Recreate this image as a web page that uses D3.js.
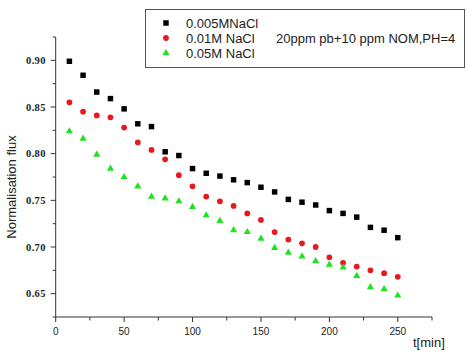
<!DOCTYPE html>
<html>
<head>
<meta charset="utf-8">
<script src="https://cdn.jsdelivr.net/npm/d3@7"></script>
<style>
  body { margin: 0; background: #fff; }
  svg { display: block; }
</style>
</head>
<body>
<div id="chart"></div>
<script>
// time in minutes
const times = [10, 20, 30, 40, 50, 60, 70, 80, 90, 100, 110, 120, 130, 140, 150, 160, 170, 180, 190, 200, 210, 220, 230, 240, 250];

const nacl005 = [0.899, 0.884, 0.866, 0.859, 0.848, 0.832, 0.829, 0.802, 0.798, 0.784, 0.779, 0.776, 0.772, 0.769, 0.764, 0.759, 0.751, 0.748, 0.745, 0.739, 0.736, 0.732, 0.721, 0.718, 0.710];
const nacl01 = [0.855, 0.845, 0.841, 0.839, 0.828, 0.812, 0.804, 0.794, 0.777, 0.765, 0.754, 0.749, 0.744, 0.736, 0.729, 0.716, 0.708, 0.704, 0.700, 0.689, 0.683, 0.679, 0.675, 0.672, 0.668];
const nacl05 = [0.824, 0.816, 0.799, 0.784, 0.775, 0.765, 0.754, 0.752, 0.749, 0.743, 0.734, 0.728, 0.718, 0.716, 0.709, 0.699, 0.694, 0.690, 0.685, 0.681, 0.678, 0.669, 0.657, 0.655, 0.648];

const seriesNames = ["0.005MNaCl", "0.01M NaCl", "0.05M NaCl"];
const xTicks = [0, 50, 100, 150, 200, 250];
const yTicks = [0.65, 0.70, 0.75, 0.80, 0.85, 0.90];

const width = 467, height = 354;

const svg = d3.select("#chart").append("svg")
    .attr("width", width)
    .attr("height", height);

const x = d3.scaleLinear().domain([0, 275]).range([55.7, 432]);
const y = d3.scaleLinear().domain([0.625, 0.925]).range([317, 37]);

const series = [
    { name: seriesNames[0], values: nacl005, shape: d3.symbolSquare, size: 30, color: "#000" },
    { name: seriesNames[1], values: nacl01, shape: d3.symbolCircle, size: 26, color: "#e8191c" },
    { name: seriesNames[2], values: nacl05, shape: d3.symbolTriangle, size: 22, color: "#1fe21f" }
];

const axisColor = "#333";

// x axis
const xAxis = svg.append("g").attr("transform", "translate(0," + y.range()[0] + ")");
xAxis.append("line")
    .attr("x1", x(0)).attr("x2", x(275))
    .attr("stroke", axisColor);
xAxis.selectAll(".minor")
    .data(d3.range(25, 276, 50))
    .enter().append("line")
    .attr("x1", d => x(d)).attr("x2", d => x(d))
    .attr("y1", 0).attr("y2", 3.5)
    .attr("stroke", axisColor);
xAxis.selectAll(".major")
    .data(xTicks)
    .enter().append("line")
    .attr("x1", d => x(d)).attr("x2", d => x(d))
    .attr("y1", 0).attr("y2", 5)
    .attr("stroke", axisColor);
xAxis.selectAll(".lbl")
    .data(xTicks)
    .enter().append("text")
    .attr("x", d => x(d))
    .attr("y", 17.5)
    .attr("text-anchor", "middle")
    .attr("font-family", "Liberation Sans, Arial, sans-serif")
    .attr("font-size", "10px")
    .attr("fill", "#222")
    .text(d => d);

// y axis
const yAxis = svg.append("g").attr("transform", "translate(" + x(0) + ",0)");
yAxis.append("line")
    .attr("y1", y(0.625)).attr("y2", y(0.925))
    .attr("stroke", axisColor);
yAxis.selectAll(".minor")
    .data(d3.range(0.625, 0.93, 0.05))
    .enter().append("line")
    .attr("y1", d => y(d)).attr("y2", d => y(d))
    .attr("x1", 0).attr("x2", -3)
    .attr("stroke", axisColor);
yAxis.selectAll(".major")
    .data(yTicks)
    .enter().append("line")
    .attr("y1", d => y(d)).attr("y2", d => y(d))
    .attr("x1", 0).attr("x2", -5)
    .attr("stroke", axisColor);
yAxis.selectAll(".lbl")
    .data(yTicks)
    .enter().append("text")
    .attr("x", -10)
    .attr("y", d => y(d) + 3.5)
    .attr("text-anchor", "end")
    .attr("font-family", "Liberation Serif, Times New Roman, serif")
    .attr("font-weight", "bold")
    .attr("font-size", "10.5px")
    .attr("letter-spacing", "0.3px")
    .attr("fill", "#222")
    .text(d => d.toFixed(2));

// axis titles
svg.append("text")
    .attr("transform", "translate(16,187) rotate(-90)")
    .attr("text-anchor", "middle")
    .attr("font-family", "Liberation Sans, Arial, sans-serif")
    .attr("font-size", "13px")
    .attr("fill", "#222")
    .text("Normalisation flux");

svg.append("text")
    .attr("x", 413)
    .attr("y", 347)
    .attr("font-family", "Liberation Sans, Arial, sans-serif")
    .attr("font-size", "13px")
    .attr("fill", "#222")
    .text("t[min]");

// points
series.forEach(s => {
    const sym = d3.symbol().type(s.shape).size(s.size);
    svg.append("g")
        .selectAll("path")
        .data(s.values)
        .enter().append("path")
        .attr("d", sym)
        .attr("transform", (d, i) => "translate(" + x(times[i]) + "," + y(d) + ")")
        .attr("fill", s.color);
});

// legend
const legend = svg.append("g");
legend.append("rect")
    .attr("x", 145.5).attr("y", 9.5)
    .attr("width", 319).attr("height", 58)
    .attr("fill", "#fff")
    .attr("stroke", "#555");

const rows = legend.selectAll(".row")
    .data(series)
    .enter().append("g")
    .attr("transform", (d, i) => "translate(0," + (23 + i * 15) + ")");
rows.append("path")
    .attr("d", d => d3.symbol().type(d.shape).size(d.size)())
    .attr("transform", "translate(166,0)")
    .attr("fill", d => d.color);
rows.append("text")
    .attr("x", 186)
    .attr("y", 4.5)
    .attr("font-family", "Liberation Sans, Arial, sans-serif")
    .attr("font-size", "13px")
    .attr("fill", "#222")
    .text(d => d.name);

legend.append("text")
    .attr("x", 276)
    .attr("y", 42.5)
    .attr("font-family", "Liberation Sans, Arial, sans-serif")
    .attr("font-size", "13px")
    .attr("fill", "#222")
    .text("20ppm pb+10 ppm NOM,PH=4");
</script>
</body>
</html>
